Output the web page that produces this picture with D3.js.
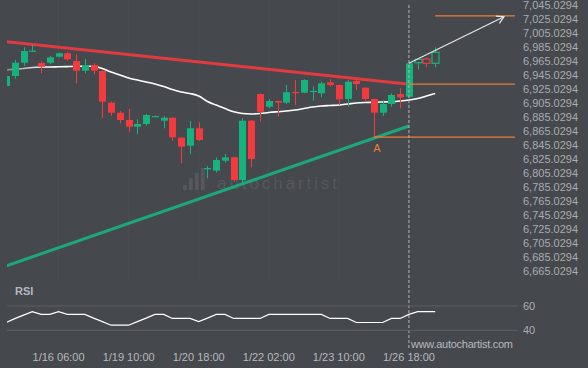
<!DOCTYPE html>
<html>
<head>
<meta charset="utf-8">
<script src="https://cdn.jsdelivr.net/npm/d3@7"></script>
<style>
  body { margin: 0; background: #45484d; }
  svg { display: block; font-family: "Liberation Sans", Arial, sans-serif; }
</style>
</head>
<body>
<div id="chart"></div>
<script>
// candles, 4h bars
var opens = [6926.5, 6940.7, 6959.7, 6976.0, 6959.3, 6959.7, 6968.3, 6973.2, 6962.2, 6948.3,
             6956.4, 6947.9, 6902.6, 6888.3, 6877.9, 6868.3, 6872.2, 6883.0, 6876.9, 6881.2,
             6852.6, 6841.2, 6866.0, 6807.4, 6805.5, 6819.7, 6824.6, 6792.2, 6876.9, 6915.0,
             6896.9, 6905.0, 6902.6, 6918.0, 6916.9, 6919.0, 6916.0, 6931.7, 6927.9, 6907.9,
             6933.6, 6924.0, 6907.9, 6888.3, 6900.7, 6915.0, 6911.2, 6959.7, 6965.0, 6958.9];
var closes = [6940.7, 6959.7, 6976.5, 6977.0, 6954.0, 6967.4, 6973.2, 6964.6, 6948.3, 6956.4,
              6948.3, 6904.0, 6888.3, 6877.9, 6868.3, 6872.2, 6885.0, 6883.5, 6881.2, 6853.2,
              6839.7, 6866.0, 6849.3, 6809.3, 6820.7, 6824.6, 6792.2, 6876.9, 6822.2, 6889.7,
              6905.0, 6902.6, 6917.5, 6917.0, 6935.0, 6919.5, 6930.3, 6927.9, 6907.5, 6932.6,
              6929.3, 6907.9, 6888.3, 6900.7, 6913.6, 6910.3, 6958.9, 6964.6, 6958.9, 6974.6];
var highs = [6942.0, 6963.6, 6981.7, 6985.5, 6961.7, 6969.3, 6974.0, 6975.5, 6971.7, 6965.0,
             6958.9, 6948.5, 6904.0, 6890.7, 6893.6, 6878.9, 6886.5, 6884.5, 6883.6, 6882.0,
             6853.5, 6876.4, 6874.6, 6812.2, 6824.6, 6829.3, 6825.5, 6880.3, 6877.8, 6916.0,
             6907.9, 6905.5, 6927.9, 6935.0, 6936.0, 6925.5, 6932.6, 6936.0, 6928.5, 6935.0,
             6936.5, 6924.5, 6908.5, 6906.4, 6916.0, 6923.2, 6959.5, 6966.0, 6967.4, 6981.7];
var lows = [6925.0, 6936.9, 6955.4, 6976.0, 6944.6, 6957.5, 6967.4, 6962.2, 6930.3, 6944.6,
            6943.2, 6880.3, 6884.0, 6873.2, 6860.3, 6857.4, 6869.7, 6882.0, 6866.0, 6847.9,
            6816.0, 6829.3, 6847.9, 6794.6, 6802.6, 6816.9, 6789.7, 6787.4, 6810.3, 6875.5,
            6894.6, 6882.6, 6900.7, 6899.3, 6916.0, 6905.5, 6910.3, 6925.5, 6899.3, 6896.9,
            6920.7, 6904.0, 6853.2, 6883.6, 6896.9, 6894.6, 6910.0, 6950.3, 6953.2, 6953.2];
var liveFrom = 47; // bars after the breakout drawn hollow

// moving average
var maValues = [6949.3, 6950.5, 6951.5, 6952.9, 6953.6, 6953.6, 6953.9, 6954.2, 6954.5, 6954.6,
                6954.7, 6951.5, 6946.4, 6942.2, 6937.9, 6935.0, 6932.2, 6929.3, 6925.7, 6921.4,
                6917.9, 6915.7, 6912.2, 6904.3, 6899.3, 6894.3, 6889.7, 6887.2, 6886.5, 6887.2,
                6888.6, 6889.7, 6890.7, 6892.2, 6894.3, 6896.5, 6897.9, 6898.6, 6899.3, 6900.7,
                6902.2, 6902.9, 6903.2, 6903.6, 6904.0, 6905.0, 6906.4, 6908.6, 6912.2, 6915.7];

// RSI
var rsiValues = [46.4, 49.6, 52.5, 55.3, 53.1, 53.1, 55.3, 53.1, 53.1, 53.1,
                 50.0, 47.1, 44.2, 44.2, 44.2, 47.1, 50.0, 53.1, 53.1, 49.75,
                 49.75, 49.75, 47.25, 50.0, 53.1, 53.1, 49.75, 49.75, 49.75, 49.75,
                 53.1, 53.1, 53.1, 53.1, 53.1, 53.1, 53.1, 49.75, 49.75, 49.75,
                 46.4, 46.4, 46.4, 46.4, 49.75, 49.75, 53.1, 55.3, 55.3, 55.3];
var rsiTicks = [60, 40];

// pattern: [index, price]
var resistance = [[0, 6989.9], [46, 6929.0]];
var support = [[0, 6669.3], [46, 6869.3]];
var breakoutIdx = 46;
var levelEndIdx = 58.1;
var breakoutLevel = [46, 6929.0];
var targetLevel = [49, 7026.5];
var pointA = [42, 6853.4];
var forecast = [[46, 6958.9], [56.85, 7025.5]];

var priceTicks = d3.range(7045.0294, 6660, -20);
var timeTickIdx = [6, 14, 22, 30, 38, 46];
var timeTickLabels = ["1/16 06:00", "1/19 10:00", "1/20 18:00", "1/22 02:00", "1/23 10:00", "1/26 18:00"];

var width = 588, height = 368;
var green = "#17b37f", red = "#f23a3f", orange = "#f07d35", bg = "#45484d";

var svg = d3.select("#chart").append("svg").attr("width", width).attr("height", height);
svg.append("rect").attr("width", width).attr("height", height).attr("fill", bg);

var x = d3.scaleLinear().domain([0, 49]).range([6, 435.2]);
var y = d3.scaleLinear().domain([6665.0294, 7045.0294]).range([269, 3]);
var yr = d3.scaleLinear().domain([40, 60]).range([330.3, 306]);

var defs = svg.append("defs");
defs.append("clipPath").attr("id", "clip").append("rect").attr("x", 7).attr("y", 0).attr("width", 513).attr("height", 340);
var grad = defs.append("linearGradient").attr("id", "maFade").attr("gradientUnits", "userSpaceOnUse")
    .attr("x1", 7).attr("x2", 45).attr("y1", 0).attr("y2", 0);
grad.append("stop").attr("offset", 0).attr("stop-color", "#ffffff").attr("stop-opacity", 0.35);
grad.append("stop").attr("offset", 1).attr("stop-color", "#ffffff").attr("stop-opacity", 1);
defs.append("marker").attr("id", "head").attr("viewBox", "-10 -6 12 12").attr("refX", 0).attr("refY", 0)
    .attr("markerWidth", 12).attr("markerHeight", 12).attr("markerUnits", "userSpaceOnUse").attr("orient", "auto")
    .append("path").attr("d", "M-7,-4L0,0L-7,4").attr("fill", "none").attr("stroke", "#e6e6e6").attr("stroke-width", 1.2);

// faint vertical grid
svg.append("g").selectAll("line").data(timeTickIdx).enter().append("line")
    .attr("x1", d => x(d)).attr("x2", d => x(d)).attr("y1", 0).attr("y2", 280)
    .attr("stroke", "#4b4e53").attr("stroke-width", 1);

// watermark
var wm = svg.append("g");
wm.selectAll("rect").data([5, 12, 17, 22]).enter().append("rect")
    .attr("x", (d, i) => 183 + i * 6).attr("y", d => 190 - d).attr("width", 3.7).attr("height", d => d)
    .attr("fill", "#55585d");
wm.append("text").attr("x", 217).attr("y", 189.3).attr("font-size", 17).attr("textLength", 120)
    .attr("lengthAdjust", "spacing").attr("fill", "#55585d").text("autochartist");

var plot = svg.append("g").attr("clip-path", "url(#clip)");

// trend lines
var line = d3.line().x(d => x(d[0])).y(d => y(d[1]));
plot.append("path").attr("d", line(resistance)).attr("stroke", red).attr("stroke-width", 3)
    .attr("stroke-opacity", 0.9).attr("fill", "none");
plot.append("path").attr("d", line(support)).attr("stroke", green).attr("stroke-width", 3)
    .attr("stroke-opacity", 0.9).attr("fill", "none");

// moving average
plot.append("path").attr("d", d3.line().x((d, i) => x(i)).y(d => y(d)).curve(d3.curveMonotoneX)(maValues))
    .attr("stroke", "url(#maFade)").attr("stroke-width", 1.6).attr("fill", "none");

// candles
var bars = d3.range(opens.length).map(function(i) {
    return {i: i, o: opens[i], c: closes[i], h: highs[i], l: lows[i], up: closes[i] >= opens[i], live: i >= liveFrom};
});
var bw = 7;
var cg = plot.append("g").selectAll("g").data(bars).enter().append("g");
cg.append("line").attr("x1", d => Math.round(x(d.i)) + 0.5).attr("x2", d => Math.round(x(d.i)) + 0.5)
    .attr("y1", d => y(d.h)).attr("y2", d => y(d.l))
    .attr("stroke", d => d.up ? green : red).attr("stroke-width", 1);
cg.append("rect")
    .attr("x", d => Math.round(x(d.i)) + 0.5 - bw / 2)
    .attr("y", d => y(Math.max(d.o, d.c)))
    .attr("width", bw)
    .attr("height", d => Math.max(1.2, Math.abs(y(d.o) - y(d.c))))
    .attr("fill", d => d.live ? bg : (d.up ? green : red))
    .attr("stroke", d => d.live ? (d.up ? green : red) : "none")
    .attr("stroke-width", 1.2);

// levels
var levels = [breakoutLevel, targetLevel, pointA];
svg.append("g").selectAll("line").data(levels).enter().append("line")
    .attr("x1", d => x(d[0])).attr("x2", x(levelEndIdx)).attr("y1", d => y(d[1])).attr("y2", d => y(d[1]))
    .attr("stroke", orange).attr("stroke-width", 1.3);
svg.append("text").attr("x", x(pointA[0]) + 3).attr("y", y(pointA[1]) + 7).attr("dy", "0.71em")
    .attr("text-anchor", "middle").attr("font-size", 11).attr("fill", orange).text("A");

// forecast arrow
svg.append("path").attr("d", line(forecast)).attr("stroke", "#e6e6e6").attr("stroke-width", 1.2)
    .attr("fill", "none").attr("marker-end", "url(#head)");

// breakout marker
svg.append("line").attr("x1", x(breakoutIdx)).attr("x2", x(breakoutIdx)).attr("y1", 5).attr("y2", 350)
    .attr("stroke", "#b3b6ba").attr("stroke-width", 1).attr("stroke-dasharray", "3,2");

// price axis
svg.append("g").selectAll("text").data(priceTicks).enter().append("text")
    .attr("x", 523).attr("y", d => y(d) + 1.7).attr("dy", "0.35em").attr("font-size", 11)
    .attr("fill", "#a9acb1").text(d => d3.format(",.4f")(d));

// time axis
svg.append("g").selectAll("text").data(timeTickIdx).enter().append("text")
    .attr("x", d => x(d)).attr("y", 356.7).attr("dy", "0.35em").attr("text-anchor", "middle")
    .attr("font-size", 11).attr("fill", "#b7babe").text((d, i) => timeTickLabels[i]);

// RSI panel
svg.append("text").attr("x", 15).attr("y", 295).attr("font-size", 11).attr("font-weight", "bold")
    .attr("fill", "#b4b8c0").text("RSI");
svg.append("g").selectAll("line").data(rsiTicks).enter().append("line")
    .attr("x1", 7).attr("x2", 518).attr("y1", d => yr(d)).attr("y2", d => yr(d))
    .attr("stroke", "#5b5e63").attr("stroke-width", 1);
svg.append("g").selectAll("text").data(rsiTicks).enter().append("text")
    .attr("x", 523).attr("y", d => yr(d)).attr("dy", "0.35em").attr("font-size", 11)
    .attr("fill", "#a9acb1").text(d => d);
plot.append("path").attr("d", d3.line().x((d, i) => x(i)).y(d => yr(d))(rsiValues))
    .attr("stroke", "#ffffff").attr("stroke-width", 1.2).attr("fill", "none");

svg.append("text").attr("x", 411).attr("y", 344.3).attr("dy", "0.35em").attr("font-size", 11)
    .attr("textLength", 102).attr("lengthAdjust", "spacing").attr("fill", "#b7babe").text("www.autochartist.com");
</script>
</body>
</html>
